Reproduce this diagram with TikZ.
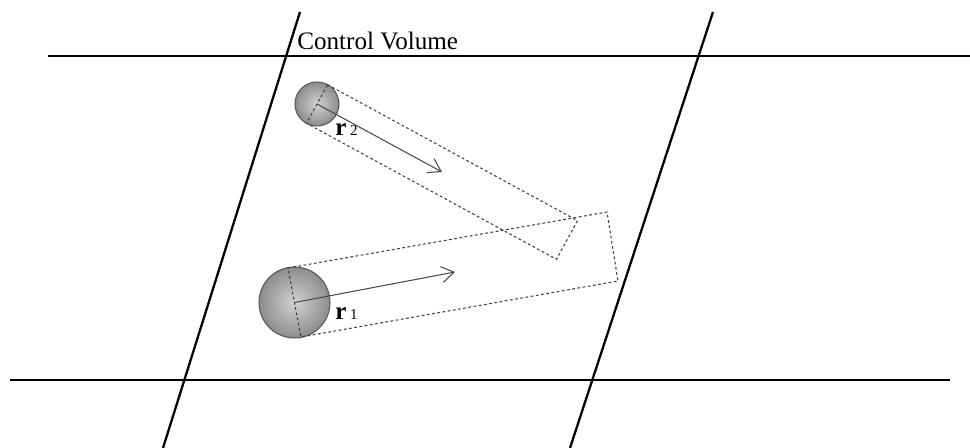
\documentclass[tikz,border=0pt]{standalone}
\usepackage{fontspec}
\setmainfont{Liberation Serif}
\usepackage{xcolor}
\definecolor{ballEdge}{HTML}{5A5A5A}
\definecolor{arrowGray}{HTML}{4A4A4A}
\usetikzlibrary{arrows.meta}

\tikzset{
  wall/.style={line width=1.3pt, black},
  tube/.style={line width=0.6pt, dash pattern=on 1.6pt off 1.4pt, black!75},
  ball/.style={draw=ballEdge, line width=0.6pt, inner color=gray!35, outer color=gray!90},
  vel/.style={line width=0.6pt, arrowGray, -{Straight Barb[length=7pt,width=9pt]}},
  lbl/.style={inner sep=0pt, anchor=base west}
}

\begin{document}
\begin{tikzpicture}[x=0.02cm, y=-0.02cm]
  \useasboundingbox (0,0) rectangle (970,448);
  % control volume walls
  \draw[wall] (48,56) -- (970,56);
  \draw[wall] (10,380) -- (950,380);
  \draw[wall] (300,12) -- (163,448);
  \draw[wall] (713,12) -- (570,448);
  \node[lbl] (cvname) at (297,50) {\fontsize{14.3}{16}\selectfont Control Volume};

  % particle 2
  \coordinate (c2) at (317,104);
  \coordinate (t2) at (442,172);
  \filldraw[ball] (c2) circle (22);
  \draw[tube] (327.5,84.7) -- (577.5,220.7) -- (556.5,259.3) -- (306.5,123.3) -- cycle;
  \draw[vel] (c2) -- (t2);
  \node[lbl] (rtwo) at (335,136) {\fontsize{14.3}{16}\selectfont\bfseries r\hspace{2pt}{\fontsize{8.5}{9}\selectfont\mdseries 2}};

  % particle 1
  \coordinate (c1) at (294.5,302.5);
  \coordinate (t1) at (455,272);
  \filldraw[ball] (c1) circle (35.5);
  \draw[tube] (288,268) -- (607,212) -- (618,281) -- (301,337) -- cycle;
  \draw[vel] (c1) -- (t1);
  \node[lbl] (rone) at (335,320) {\fontsize{14.3}{16}\selectfont\bfseries r\hspace{2pt}{\fontsize{8.5}{9}\selectfont\mdseries 1}};
\end{tikzpicture}
\end{document}
